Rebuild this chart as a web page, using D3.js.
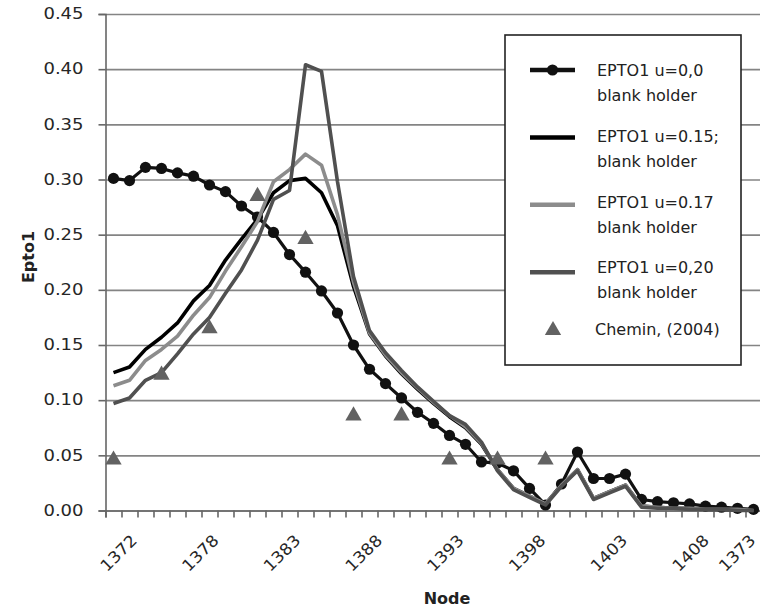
<!DOCTYPE html>
<html>
<head>
<meta charset="utf-8">
<script src="https://cdn.jsdelivr.net/npm/d3@7"></script>
<style>
  body { margin: 0; background: #fff; }
  svg { display: block; font-family: "DejaVu Sans", sans-serif; }
</style>
</head>
<body>
<div id="chart"></div>
<script>
// node ids along the x axis (only every 5th one is labelled)
var nodes = [1372, 1374, 1375, 1376, 1377, 1378, 1379, 1380, 1381, 1382,
             1383, 1384, 1385, 1386, 1387, 1388, 1389, 1390, 1391, 1392,
             1393, 1394, 1395, 1396, 1397, 1398, 1399, 1400, 1401, 1402,
             1403, 1404, 1405, 1406, 1407, 1408, 1409, 1410, 1411, 1412, 1373];

// EPTO1 u=0,0 blank holder
var epto00 = [0.301, 0.299, 0.311, 0.310, 0.306, 0.303, 0.295, 0.289, 0.276, 0.266,
              0.252, 0.232, 0.216, 0.199, 0.179, 0.150, 0.128, 0.115, 0.102, 0.089,
              0.079, 0.068, 0.060, 0.044, 0.043, 0.036, 0.020, 0.005, 0.024, 0.053,
              0.029, 0.029, 0.033, 0.010, 0.008, 0.007, 0.006, 0.004, 0.003, 0.002, 0.001];

// EPTO1 u=0.15; blank holder
var epto015 = [0.125, 0.130, 0.146, 0.157, 0.170, 0.190, 0.204, 0.227, 0.246, 0.264,
               0.288, 0.299, 0.301, 0.288, 0.258, 0.203, 0.160, 0.140, 0.124, 0.110,
               0.097, 0.085, 0.075, 0.060, 0.037, 0.020, 0.013, 0.006, 0.023, 0.037,
               0.011, 0.017, 0.023, 0.004, 0.003, 0.002, 0.002, 0.001, 0.001, 0.001, 0.000];

// EPTO1 u=0.17 blank holder
var epto017 = [0.113, 0.118, 0.136, 0.146, 0.158, 0.177, 0.193, 0.217, 0.239, 0.262,
               0.298, 0.309, 0.323, 0.313, 0.268, 0.207, 0.161, 0.141, 0.125, 0.111,
               0.098, 0.086, 0.076, 0.061, 0.037, 0.020, 0.013, 0.006, 0.023, 0.037,
               0.011, 0.017, 0.023, 0.004, 0.003, 0.002, 0.002, 0.001, 0.001, 0.001, 0.000];

// EPTO1 u=0,20 blank holder
var epto020 = [0.097, 0.102, 0.118, 0.125, 0.142, 0.160, 0.175, 0.197, 0.218, 0.245,
               0.282, 0.290, 0.404, 0.398, 0.298, 0.212, 0.163, 0.143, 0.127, 0.112,
               0.099, 0.086, 0.078, 0.062, 0.036, 0.019, 0.012, 0.005, 0.022, 0.036,
               0.010, 0.016, 0.022, 0.003, 0.002, 0.002, 0.001, 0.001, 0.001, 0.000, 0.000];

// Chemin, (2004) - measured at every third node
var cheminIdx = [0, 3, 6, 9, 12, 15, 18, 21, 24, 27];
var cheminVal = [0.048, 0.125, 0.167, 0.287, 0.248, 0.088, 0.088, 0.048, 0.048, 0.048];

var yTicks = [0, 0.05, 0.10, 0.15, 0.20, 0.25, 0.30, 0.35, 0.40, 0.45];
var xLabelIdx = [0, 5, 10, 15, 20, 25, 30, 35, 40];

var width = 760, height = 611;
var margin = { left: 105.5, right: -1.5, top: 14, bottom: 100.5 };
var plotW = width - margin.left - margin.right;
var plotH = height - margin.top - margin.bottom;

var svg = d3.select('#chart').append('svg')
    .attr('width', width)
    .attr('height', height);

var g = svg.append('g')
    .attr('transform', 'translate(' + margin.left + ',' + margin.top + ')');

var x = d3.scaleBand()
    .domain(d3.range(nodes.length))
    .range([0, plotW]);

var xEdge = d3.scaleLinear()
    .domain([0, nodes.length])
    .range([0, plotW]);

var y = d3.scaleLinear()
    .domain([0, 0.45])
    .range([plotH, 0]);

function cx(i) { return x(i) + x.bandwidth() / 2; }

// stretch text horizontally a bit, the source picture is wide
function stretch(sel, k) {
    sel.each(function() {
        var w = this.getComputedTextLength();
        d3.select(this).attr('textLength', w * k).attr('lengthAdjust', 'spacingAndGlyphs');
    });
}

// grid lines
g.append('g')
    .attr('class', 'grid')
    .call(d3.axisLeft(y).tickValues(yTicks).tickSize(-plotW).tickFormat(''))
    .call(function(s) {
        s.select('.domain').remove();
        s.selectAll('line').attr('stroke', '#848484').attr('stroke-width', 1.6);
    });

// y axis
var yAxis = g.append('g')
    .call(d3.axisLeft(y).tickValues(yTicks).tickSize(7).tickPadding(15).tickFormat(d3.format('.2f')));
yAxis.select('.domain').attr('stroke', '#666').attr('stroke-width', 1.6);
yAxis.selectAll('line').attr('stroke', '#666').attr('stroke-width', 1.6);
yAxis.selectAll('text')
    .attr('font-size', 15)
    .attr('fill', '#262626')
    .attr('font-family', '"DejaVu Sans", sans-serif')
    .call(stretch, 1.2);

// x axis tick marks between categories
var xAxis = g.append('g')
    .attr('transform', 'translate(0,' + plotH + ')')
    .call(d3.axisBottom(xEdge).tickValues(d3.range(nodes.length + 1)).tickSize(7).tickFormat(''));
xAxis.select('.domain').attr('stroke', '#666').attr('stroke-width', 1.6);
xAxis.selectAll('line').attr('stroke', '#666').attr('stroke-width', 1.6);

// rotated category labels, centred a bit right of the node and kept inside the picture
var labelX = d3.scaleLinear().domain([0, 35]).range([cx(0) + 5, cx(35) + 17]);
var xLab = svg.append('g')
    .selectAll('text')
    .data(xLabelIdx)
    .enter()
    .append('text')
    .attr('text-anchor', 'middle')
    .attr('dy', '0.35em')
    .attr('font-size', 16)
    .attr('fill', '#262626')
    .text(function(i) { return nodes[i]; });
xLab.call(stretch, 1.08);
xLab.attr('transform', function(i) {
    var half = (this.getComputedTextLength() * 1.08 + 12) * 0.7071 / 2;
    var px = Math.min(margin.left + labelX(i), width - half - 2);
    return 'translate(' + px + ',553) rotate(-45)';
});

// series lines
var line = d3.line()
    .x(function(d, i) { return cx(i); })
    .y(function(d) { return y(d); });

var series = [
    { data: epto00, color: '#111', width: 3.2 },
    { data: epto015, color: '#000', width: 3.6 },
    { data: epto017, color: '#8c8c8c', width: 3.6 },
    { data: epto020, color: '#505050', width: 3.6 }
];

var plot = g.append('g');

series.forEach(function(s, k) {
    plot.append('path')
        .datum(s.data)
        .attr('fill', 'none')
        .attr('stroke', s.color)
        .attr('stroke-width', s.width)
        .attr('stroke-linejoin', 'round')
        .attr('d', line);
    if (k === 0) {
        plot.append('g').selectAll('circle')
            .data(s.data)
            .enter()
            .append('circle')
            .attr('cx', function(d, i) { return cx(i); })
            .attr('cy', function(d) { return y(d); })
            .attr('r', 5.6)
            .attr('fill', '#111');
    }
});

// triangle markers, centred on their bounding box like the source
var triSize = 115;
var tri = d3.symbol().type(d3.symbolTriangle).size(triSize);
var triH = Math.sqrt(triSize / (Math.sqrt(3) * 3));
plot.append('g').selectAll('path')
    .data(cheminIdx)
    .enter()
    .append('path')
    .attr('d', tri)
    .attr('transform', function(i, j) {
        return 'translate(' + cx(i) + ',' + (y(cheminVal[j]) + triH / 2) + ')';
    })
    .attr('fill', '#626262');

// legend
var leg = svg.append('g');
leg.append('rect')
    .attr('x', 505).attr('y', 35)
    .attr('width', 236).attr('height', 330)
    .attr('fill', '#fff')
    .attr('stroke', '#222')
    .attr('stroke-width', 1.6);

var legItems = [
    { l1: 'EPTO1 u=0,0', l2: 'blank holder', s: series[0], dot: true },
    { l1: 'EPTO1 u=0.15;', l2: 'blank holder', s: series[1] },
    { l1: 'EPTO1 u=0.17', l2: 'blank holder', s: series[2] },
    { l1: 'EPTO1 u=0,20', l2: 'blank holder', s: series[3] }
];

legItems.forEach(function(it, k) {
    var ly = 70 + k * 67.4;
    var ty = ly - k * 1.5;
    leg.append('line')
        .attr('x1', 530).attr('x2', 575)
        .attr('y1', ly).attr('y2', ly)
        .attr('stroke', it.s.color)
        .attr('stroke-width', 4.5);
    if (it.dot) {
        leg.append('circle').attr('cx', 552.5).attr('cy', ly).attr('r', 5.6).attr('fill', '#111');
    }
    leg.append('text')
        .attr('x', 597).attr('y', ty).attr('dy', '0.36em')
        .attr('font-size', 16).attr('fill', '#222')
        .text(it.l1);
    leg.append('text')
        .attr('x', 597).attr('y', ty + 25).attr('dy', '0.36em')
        .attr('font-size', 16).attr('fill', '#222')
        .text(it.l2);
});

leg.append('path')
    .attr('d', tri)
    .attr('transform', 'translate(553,' + (328 + triH / 2) + ')')
    .attr('fill', '#626262');
leg.append('text')
    .attr('x', 595).attr('y', 329).attr('dy', '0.36em')
    .attr('font-size', 16).attr('fill', '#222')
    .text('Chemin, (2004)');

// axis titles
svg.append('text')
    .attr('transform', 'translate(28,257) rotate(-90)')
    .attr('text-anchor', 'middle')
    .attr('dy', '0.36em')
    .attr('font-size', 16)
    .attr('font-weight', 'bold')
    .attr('fill', '#222')
    .text('Epto1');

svg.append('text')
    .attr('x', 447).attr('y', 598)
    .attr('text-anchor', 'middle')
    .attr('dy', '0.36em')
    .attr('font-size', 16)
    .attr('font-weight', 'bold')
    .attr('fill', '#222')
    .text('Node');
</script>
</body>
</html>
